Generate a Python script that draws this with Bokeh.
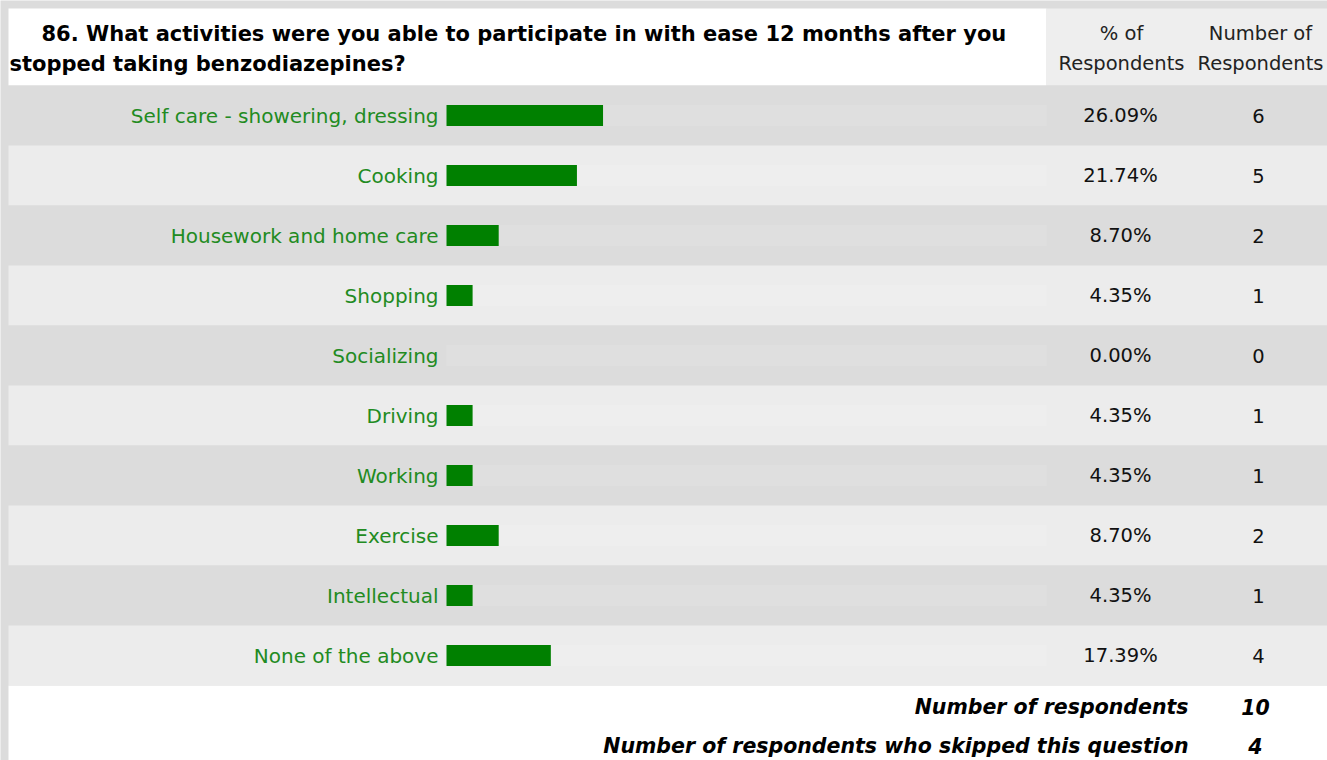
from bokeh.plotting import figure
from bokeh.models import ColumnDataSource, Range1d
from bokeh.core.properties import value
from bokeh.embed import file_html
from bokeh.resources import INLINE

# ---- data ----
title_lines = ["86. What activities were you able to participate in with ease 12 months after you",
               "stopped taking benzodiazepines?"]
col_headers = [["% of", "Respondents"], ["Number of", "Respondents"]]
categories = ["Self care - showering, dressing", "Cooking", "Housework and home care",
              "Shopping", "Socializing", "Driving", "Working", "Exercise",
              "Intellectual", "None of the above"]
percents = [26.09, 21.74, 8.70, 4.35, 0.00, 4.35, 4.35, 8.70, 4.35, 17.39]
counts = [6, 5, 2, 1, 0, 1, 1, 2, 1, 4]
footer_labels = ["Number of respondents", "Number of respondents who skipped this question"]
footer_values = [10, 4]

# ---- layout (screen-pixel helpers) ----
W, H = 1327, 760
PX_PER_PCT = 6.0
BAR0 = 446  # screen x of 0%
FONT = value("DejaVu Sans")


def X(px):  # screen pixel -> data x (percent units)
    return (px - BAR0) / PX_PER_PCT


TOP = 8
LEFT = 8
HEADER_B = 85
ROW_H = 60
n = len(categories)
row_y = [HEADER_B + ROW_H * i + ROW_H / 2 for i in range(n)]
row_col = ["#dcdcdc" if i % 2 == 0 else "#ececec" for i in range(n)]
track_col = ["#dfdfdf" if i % 2 == 0 else "#eeeeee" for i in range(n)]
FOOT_T = HEADER_B + ROW_H * n

p = figure(width=W, height=H, output_backend="svg", toolbar_location=None,
           x_range=Range1d(X(0), X(W)), y_range=Range1d(H, 0),
           min_border=0, min_border_left=0, min_border_right=0,
           min_border_top=0, min_border_bottom=0,
           x_axis_location=None, y_axis_location=None)
p.grid.visible = False
p.outline_line_color = None
p.background_fill_color = "#dcdcdc"
p.border_fill_color = "#dcdcdc"

# header cells
p.quad(left=[X(LEFT)], right=[100], top=[TOP], bottom=[HEADER_B], fill_color="white", line_color=None)
p.quad(left=[100], right=[X(W)], top=[TOP], bottom=[HEADER_B], fill_color="#eeeeee", line_color=None)
# footer
p.quad(left=[X(LEFT)], right=[X(W)], top=[FOOT_T], bottom=[H], fill_color="white", line_color=None)

# row backgrounds
src = ColumnDataSource(dict(y=row_y, cat=categories, pct=percents, cnt=[str(c) for c in counts],
                            pct_lbl=["%.2f%%" % v for v in percents], rc=row_col, tc=track_col,
                            zero=[0] * n, full=[100] * n))
p.rect(x=(X(LEFT) + X(W)) / 2, y="y", width=X(W) - X(LEFT), height=ROW_H, source=src,
       fill_color="rc", line_color=None)
# tracks
p.hbar(y="y", left="zero", right="full", height=21, source=src, fill_color="tc", line_color=None)
# bars
p.hbar(y="y", left="zero", right="pct", height=21, source=src, fill_color="#008000", line_color=None)

# category labels
p.text(x=X(438), y="y", text="cat", source=src, text_align="right", text_baseline="middle",
       text_font=FONT, text_font_size="20px", text_color="#228B22")
# percent + count columns
p.text(x=X(1120), y="y", text="pct_lbl", source=src, text_align="center", text_baseline="middle",
       text_font=FONT, text_font_size="19.5px", text_color="#111111")
p.text(x=X(1258), y="y", text="cnt", source=src, text_align="center", text_baseline="middle",
       text_font=FONT, text_font_size="19.5px", text_color="#111111")

# title
p.text(x=[X(41), X(9)], y=[33, 63], text=title_lines, text_align="left",
       text_baseline="middle", text_font=FONT, text_font_size="21px",
       text_font_style="bold", text_color="#000000")
# column headers
p.text(x=[X(1121)] * 2 + [X(1260)] * 2, y=[33, 63] * 2,
       text=col_headers[0] + col_headers[1], text_align="center", text_baseline="middle",
       text_font=FONT, text_font_size="19.5px", text_color="#222222")

# footer
fy = [706, 745]
p.text(x=[X(1188)] * 2, y=fy, text=footer_labels, text_align="right", text_baseline="middle",
       text_font=FONT, text_font_size="20.5px", text_font_style="bold italic",
       text_color="#000000")
p.text(x=[X(1255)] * 2, y=fy, text=[str(v) for v in footer_values], text_align="center",
       text_baseline="middle", text_font=FONT, text_font_size="20.5px",
       text_font_style="bold italic", text_color="#000000")

open("out.html", "w").write(file_html(p, INLINE))
